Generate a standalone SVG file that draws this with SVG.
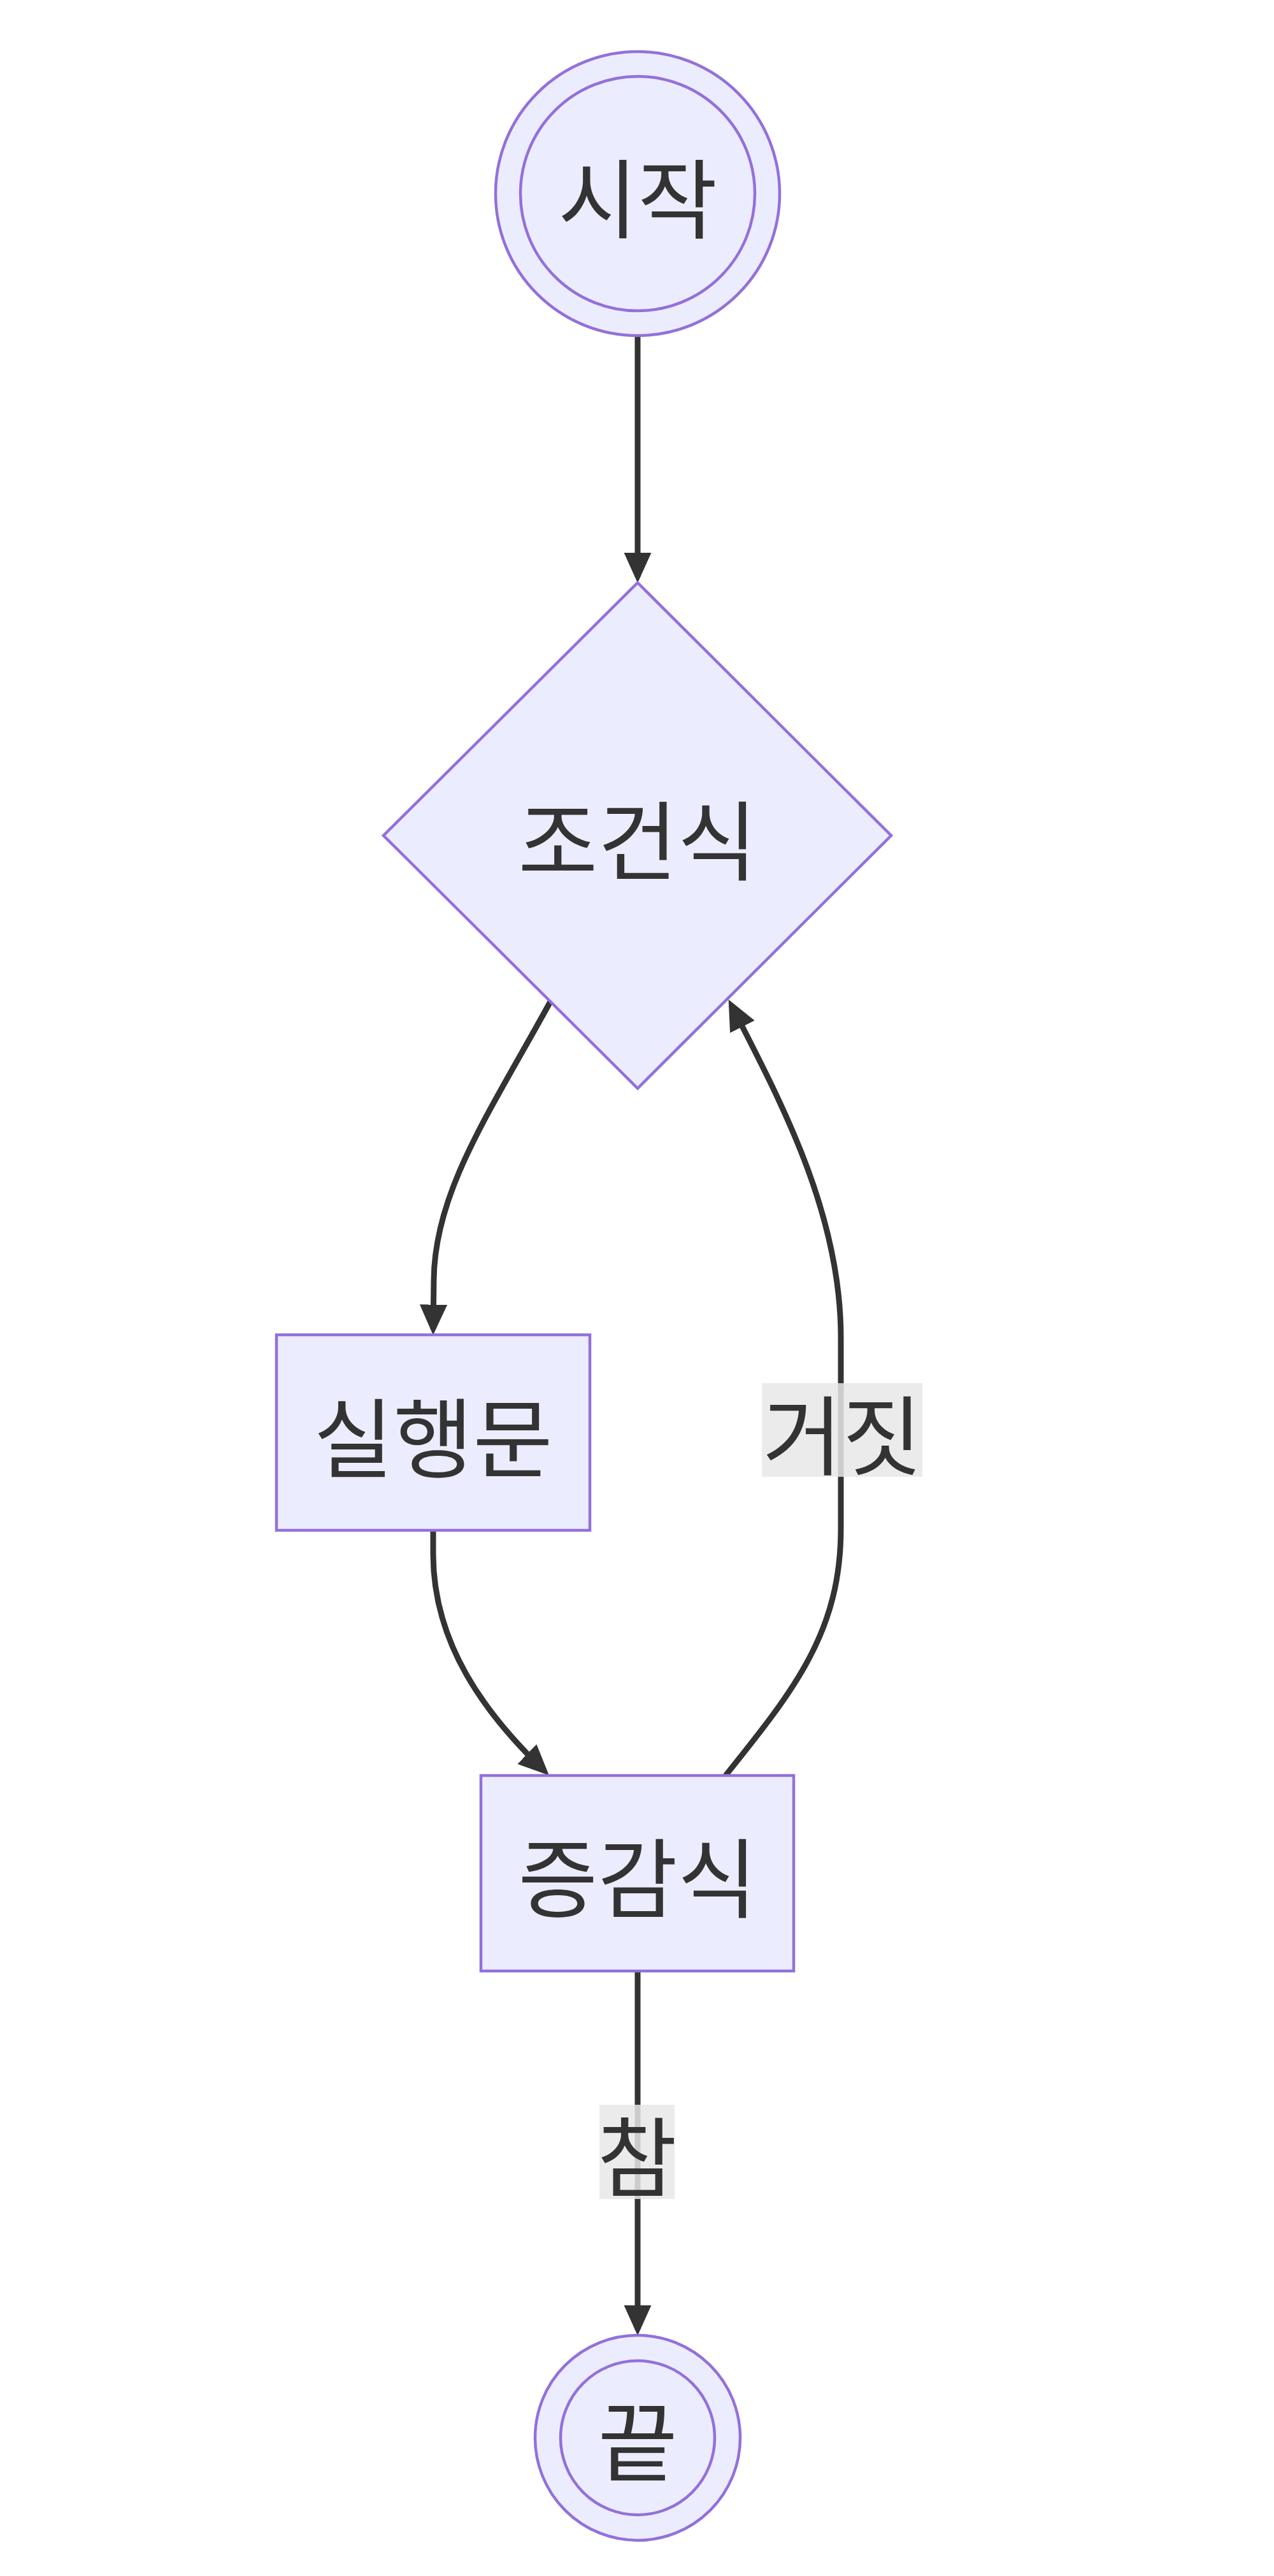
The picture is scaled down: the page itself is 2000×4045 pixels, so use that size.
<svg xmlns="http://www.w3.org/2000/svg" width="2000" height="4045" viewBox="0 0 2000 4045">
<style>
.node{fill:#ECECFF;stroke:#9370DB;stroke-width:4.5}
.lbl{font-family:"Noto Sans CJK KR","Noto Sans",sans-serif;font-size:136px;fill:#333333;text-anchor:middle;dominant-baseline:central}
.edge{fill:none;stroke:#333333;stroke-width:9}
.elbg{fill:#e8e8e8;opacity:0.85}
</style>
<defs>
<marker id="arrow" viewBox="0 0 10 10" refX="8" refY="5" markerUnits="userSpaceOnUse" markerWidth="48" markerHeight="48" orient="auto">
<path d="M0,0.5 L10,5 L0,9.5 z" fill="#333333"/>
</marker>
</defs>
<rect width="2000" height="4045" fill="#ffffff"/>
<g id="edges">
<path class="edge" d="M1001,528 L1001,906" marker-end="url(#arrow)"/>
<path class="edge" d="M865,1571 C770,1745 682,1870 681,2010 L680,2087" marker-end="url(#arrow)"/>
<path class="edge" d="M680,2403 L680,2440 C680,2580 760,2690 855,2781" marker-end="url(#arrow)"/>
<path class="edge" d="M1139,2788 C1250,2650 1320,2560 1320,2400 L1320,2100 C1320,1900 1220,1720 1148,1578" marker-end="url(#arrow)"/>
<path class="edge" d="M1001,3095 L1001,3658" marker-end="url(#arrow)"/>
</g>
<g id="edge-label-false">
<rect class="elbg" x="1196" y="2172" width="252" height="147"/>
<text class="lbl" x="1322" y="2246">거짓</text>
</g>
<g id="edge-label-true">
<rect class="elbg" x="941" y="3305" width="118" height="148"/>
<text class="lbl" x="1000" y="3379">참</text>
</g>
<g id="start">
<circle class="node" cx="1001" cy="304" r="223"/>
<circle class="node" cx="1001" cy="304" r="184"/>
<text class="lbl" x="1001" y="304">시작</text>
</g>
<g id="cond">
<polygon class="node" points="1001,915 1399,1312 1001,1709 602,1312"/>
<text class="lbl" x="1001" y="1312">조건식</text>
</g>
<g id="body">
<rect class="node" x="434" y="2096" width="492" height="307"/>
<text class="lbl" x="680" y="2250">실행문</text>
</g>
<g id="incr">
<rect class="node" x="755" y="2788" width="491" height="307"/>
<text class="lbl" x="1001" y="2941">증감식</text>
</g>
<g id="end">
<circle class="node" cx="1001" cy="3828" r="161"/>
<circle class="node" cx="1001" cy="3828" r="121"/>
<text class="lbl" x="1001" y="3826">끝</text>
</g>
</svg>
